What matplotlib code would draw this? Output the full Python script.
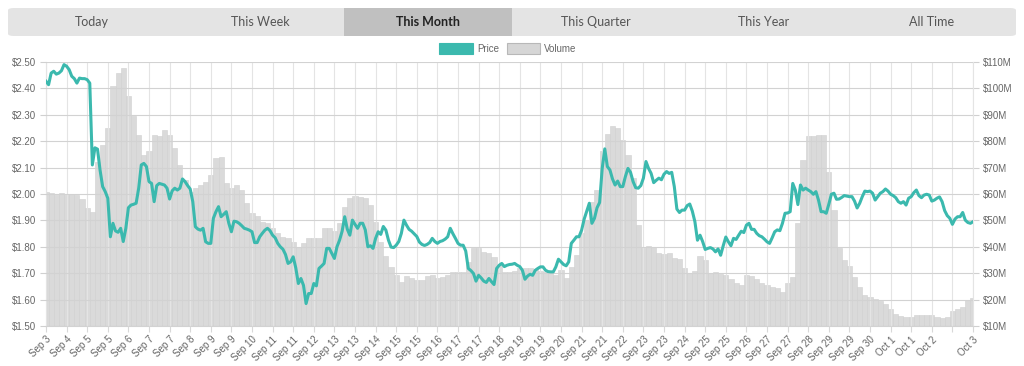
import matplotlib
matplotlib.use("Agg")
import matplotlib.pyplot as plt
from matplotlib.patches import FancyBboxPatch, Rectangle
from matplotlib.ticker import FuncFormatter, MultipleLocator
import numpy as np

# ---------------- data ----------------
tabs = ["Today", "This Week", "This Month", "This Quarter", "This Year", "All Time"]
active_tab = "This Month"

tick_labels = ["Sep 3", "Sep 4", "Sep 5", "Sep 5", "Sep 6", "Sep 7", "Sep 7", "Sep 8", "Sep 9", "Sep 9",
               "Sep 10", "Sep 11", "Sep 11", "Sep 12", "Sep 13", "Sep 13", "Sep 14", "Sep 15", "Sep 15",
               "Sep 16", "Sep 17", "Sep 17", "Sep 18", "Sep 19", "Sep 19", "Sep 20", "Sep 21", "Sep 21",
               "Sep 22", "Sep 23", "Sep 23", "Sep 24", "Sep 25", "Sep 25", "Sep 26", "Sep 27", "Sep 27",
               "Sep 28", "Sep 29", "Sep 29", "Sep 30", "Oct 1", "Oct 1", "Oct 2", "", "Oct 3"]

# price in USD, one sample every 2 hours (8 samples per 16-hour tick interval)
price = [
    2.427, 2.414, 2.458, 2.465, 2.454, 2.458, 2.467, 2.490,
    2.484, 2.471, 2.446, 2.437, 2.420, 2.439, 2.437, 2.437,
    2.433, 2.420, 2.110, 2.175, 2.170, 2.090, 2.028, 2.009,
    1.984, 1.838, 1.889, 1.860, 1.855, 1.870, 1.820, 1.870,
    1.948, 1.958, 1.961, 1.965, 2.022, 2.110, 2.116, 2.104,
    2.047, 2.040, 1.971, 2.032, 2.040, 2.037, 2.034, 2.022,
    1.981, 2.012, 2.022, 2.015, 2.022, 2.057, 2.047, 2.032,
    2.019, 1.971, 1.876, 1.867, 1.863, 1.870, 1.819, 1.813,
    1.813, 1.908, 1.933, 1.952, 1.914, 1.923, 1.933, 1.889,
    1.857, 1.897, 1.895, 1.889, 1.880, 1.870, 1.867, 1.863,
    1.857, 1.816, 1.816, 1.838, 1.851, 1.863, 1.870, 1.861,
    1.844, 1.834, 1.813, 1.800, 1.791, 1.771, 1.737, 1.743,
    1.762, 1.720, 1.661, 1.680, 1.654, 1.585, 1.623, 1.623,
    1.661, 1.652, 1.718, 1.727, 1.737, 1.794, 1.794, 1.775,
    1.756, 1.800, 1.825, 1.859, 1.914, 1.867, 1.844, 1.901,
    1.885, 1.870, 1.889, 1.889, 1.864, 1.800, 1.804, 1.794,
    1.832, 1.857, 1.847, 1.877, 1.863, 1.825, 1.799, 1.797,
    1.806, 1.820, 1.851, 1.901, 1.882, 1.866, 1.859, 1.849,
    1.839, 1.818, 1.809, 1.805, 1.809, 1.816, 1.832, 1.820,
    1.813, 1.820, 1.823, 1.829, 1.838, 1.870, 1.850, 1.832,
    1.813, 1.806, 1.806, 1.784, 1.718, 1.710, 1.699, 1.670,
    1.692, 1.682, 1.670, 1.665, 1.680, 1.668, 1.657, 1.718,
    1.730, 1.737, 1.725, 1.730, 1.733, 1.734, 1.737, 1.730,
    1.725, 1.711, 1.677, 1.689, 1.696, 1.692, 1.711, 1.718,
    1.724, 1.724, 1.711, 1.706, 1.705, 1.705, 1.724, 1.753,
    1.743, 1.733, 1.728, 1.743, 1.813, 1.825, 1.838, 1.838,
    1.863, 1.905, 1.935, 1.965, 1.889, 1.908, 1.948, 1.968,
    2.097, 2.171, 2.104, 2.091, 2.057, 2.034, 2.049, 2.028,
    2.028, 2.066, 2.097, 2.082, 2.047, 2.024, 2.022, 2.032,
    2.060, 2.123, 2.097, 2.078, 2.043, 2.052, 2.060, 2.054,
    2.075, 2.085, 2.078, 2.082, 2.028, 1.943, 1.930, 1.939,
    1.939, 1.956, 1.962, 1.935, 1.895, 1.825, 1.844, 1.820,
    1.790, 1.794, 1.797, 1.792, 1.781, 1.792, 1.768, 1.804,
    1.837, 1.819, 1.804, 1.832, 1.828, 1.844, 1.859, 1.854,
    1.882, 1.889, 1.866, 1.866, 1.851, 1.842, 1.838, 1.829,
    1.819, 1.813, 1.834, 1.857, 1.864, 1.861, 1.889, 1.927,
    1.928, 1.933, 2.040, 2.015, 1.960, 2.034, 2.015, 2.022,
    2.015, 2.009, 1.999, 2.009, 1.977, 1.933, 1.933, 1.927,
    1.961, 1.999, 2.003, 1.980, 1.981, 1.987, 1.994, 1.992,
    1.990, 1.990, 1.973, 1.947, 1.965, 1.990, 2.011, 2.009,
    2.011, 2.003, 1.977, 1.990, 2.003, 2.009, 2.019, 2.011,
    1.999, 1.994, 1.986, 1.971, 1.965, 1.971, 1.958, 1.984,
    1.990, 2.005, 2.015, 1.994, 1.986, 1.996, 1.999, 1.996,
    1.973, 1.977, 1.984, 1.989, 1.971, 1.937, 1.918, 1.908,
    1.885, 1.905, 1.914, 1.914, 1.930, 1.901, 1.892, 1.889,
    1.895]

# volume in millions USD, one sample every 4 hours
volume = [60.9, 60.3, 59.6, 60.3, 59.6, 59.9, 59.6, 58.1, 54.6, 53.0,
          72.3, 78.4, 85.0, 100.8, 105.8, 107.7, 97.0, 89.4, 82.4, 74.8,
          76.1, 82.4, 81.8, 84.3, 82.4, 77.3, 71.0, 65.3, 60.9, 62.4,
          63.4, 64.7, 67.2, 73.5, 74.2, 64.0, 62.4, 63.4, 61.5, 56.5,
          52.7, 51.8, 49.5, 48.9, 47.0, 45.1, 43.8, 43.2, 41.9, 40.0,
          41.3, 43.4, 43.2, 43.2, 47.0, 47.2, 46.0, 48.9, 55.2, 58.6,
          59.3, 59.0, 58.4, 55.8, 49.5, 41.9, 36.6, 32.4, 29.2, 26.7,
          29.0, 28.0, 27.3, 27.3, 29.0, 29.5, 28.2, 28.6, 29.5, 30.5,
          30.5, 30.5, 34.3, 39.4, 39.4, 38.1, 37.5, 36.2, 33.0, 30.3,
          30.3, 30.8, 31.8, 31.8, 31.8, 31.5, 30.8, 30.5, 29.9, 29.2,
          31.1, 28.0, 32.4, 36.8, 45.1, 50.1, 57.1, 61.5, 76.1, 82.7,
          85.6, 84.9, 80.5, 74.8, 66.0, 48.2, 39.7, 40.3, 39.9, 37.7,
          37.1, 37.7, 35.8, 35.2, 31.8, 30.1, 31.0, 36.6, 34.9, 30.1,
          30.5, 29.8, 29.5, 27.7, 26.1, 25.7, 29.2, 28.9, 27.7, 26.4,
          25.4, 24.8, 24.4, 22.9, 26.1, 28.6, 48.9, 72.9, 81.8, 82.0,
          82.2, 82.4, 68.2, 53.9, 39.4, 35.0, 32.7, 28.6, 24.8, 21.9,
          20.9, 20.1, 19.5, 18.5, 16.6, 14.7, 13.8, 13.4, 13.4, 14.3,
          14.1, 14.3, 14.1, 13.4, 13.0, 13.4, 15.6, 16.6, 17.2, 19.7,
          20.6]

# ---------------- styling ----------------
W, H = 1024, 366
TEAL = "#3bb9ae"
BAR = "#dadada"
BAR_EDGE = "#d0d0d0"
TXT = "#666666"
FONT = ["Liberation Sans", "DejaVu Sans"]

fig = plt.figure(figsize=(W / 100, H / 100), dpi=100)
fig.patch.set_facecolor("white")

def frect(x0, y0, x1, y1):
    return (x0 / W, 1 - y1 / H, (x1 - x0) / W, (y1 - y0) / H)

# tab bar
bx, by, bw, bh = frect(8, 8, 1016, 36)
fig.patches.append(FancyBboxPatch((bx, by), bw, bh, boxstyle="round,pad=0,rounding_size=0.006",
                                  transform=fig.transFigure, facecolor="#e4e4e4", edgecolor="none"))
tab_w = 1008 / len(tabs)
for i, t in enumerate(tabs):
    x0 = 8 + i * tab_w
    if t == active_tab:
        ax_, ay_, aw_, ah_ = frect(x0, 8, x0 + tab_w, 36)
        fig.patches.append(Rectangle((ax_, ay_), aw_, ah_, transform=fig.transFigure,
                                     facecolor="#c0c0c0", edgecolor="none"))
    fig.text((x0 + tab_w / 2) / W, 1 - 22 / H, t, ha="center", va="center",
             fontsize=9, family=["Lato", "DejaVu Sans"],
             fontweight="bold" if t == active_tab else "normal",
             color="#222222" if t == active_tab else "#555555")

# legend
lx, ly, lw, lh = frect(439, 43, 473, 54)
fig.patches.append(Rectangle((lx, ly), lw, lh, transform=fig.transFigure,
                             facecolor=TEAL, edgecolor=TEAL, linewidth=0.8))
fig.text(477 / W, 1 - 49 / H, "Price", ha="left", va="center", fontsize=7, color=TXT, family=FONT)
lx, ly, lw, lh = frect(507, 43, 540, 54)
fig.patches.append(Rectangle((lx, ly), lw, lh, transform=fig.transFigure,
                             facecolor="#d6d6d6", edgecolor="#b8b8b8", linewidth=0.8))
fig.text(544 / W, 1 - 49 / H, "Volume", ha="left", va="center", fontsize=7, color=TXT, family=FONT)

# axes
ax = fig.add_axes(frect(46, 62, 973, 326))
axv = ax.twinx()
ax.set_zorder(axv.get_zorder() + 1)
ax.patch.set_visible(False)

xv = np.arange(len(volume))
xp = np.arange(len(price)) * (len(volume) - 1) / (len(price) - 1)
axv.bar(xv, volume, width=1.0, bottom=0, color=BAR, edgecolor=BAR_EDGE, linewidth=0.4, zorder=1)
ax.plot(xp, price, color=TEAL, linewidth=2.2, solid_joinstyle="round", zorder=5)

ax.set_xlim(0, len(volume) - 1)
ax.set_ylim(1.5, 2.5)
axv.set_ylim(10, 110)

ticks = np.arange(0, len(volume), 4)
ax.set_xticks(ticks)
ax.set_xticklabels(tick_labels, rotation=45, ha="right", va="top", rotation_mode="anchor",
                   fontsize=7, color=TXT, family=FONT)
ax.yaxis.set_major_locator(MultipleLocator(0.1))
ax.yaxis.set_major_formatter(FuncFormatter(lambda v, p: f"${v:.2f}"))
axv.yaxis.set_major_locator(MultipleLocator(10))
axv.yaxis.set_major_formatter(FuncFormatter(lambda v, p: f"${v:.0f}M"))

for lab in ax.get_yticklabels() + axv.get_yticklabels():
    lab.set_fontsize(7)
    lab.set_color(TXT)
    lab.set_family(FONT)

ax.tick_params(axis="x", length=4, color="#d8d8d8", pad=2)
ax.tick_params(axis="y", length=4, color="#d0d0d0", pad=3)
axv.tick_params(axis="y", length=4, color="#d0d0d0", pad=3)

ax.grid(True, axis="x", color="#e4e4e4", linewidth=0.8)
ax.grid(True, axis="y", color="#d2d2d2", linewidth=0.8)
ax.set_axisbelow(False)
for a in (ax, axv):
    for s in a.spines.values():
        s.set_visible(False)
ax.spines["left"].set_visible(True)
ax.spines["left"].set_color("#d2d2d2")
ax.spines["bottom"].set_visible(True)
ax.spines["bottom"].set_color("#d2d2d2")
ax.spines["right"].set_visible(True)
ax.spines["right"].set_color("#e4e4e4")

fig.savefig("out.png", dpi=100, facecolor="white")
